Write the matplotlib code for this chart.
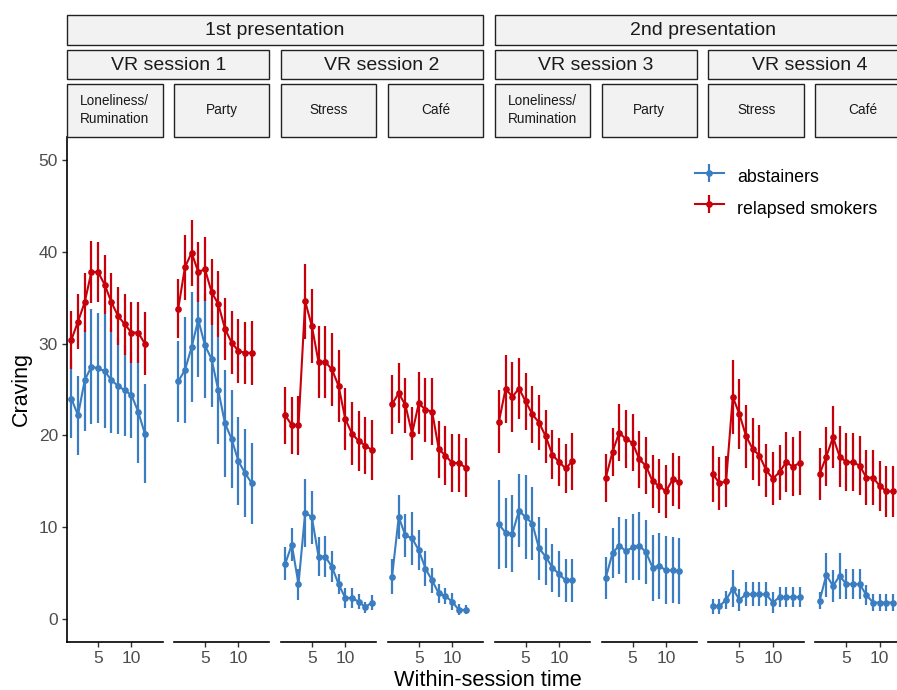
import matplotlib
matplotlib.use("Agg")
import matplotlib.pyplot as plt
from matplotlib.patches import Rectangle

plt.rcParams['font.family'] = ['Liberation Sans', 'DejaVu Sans']

# ---------------- data ----------------
presentations = ["1st presentation", "2nd presentation"]
sessions = ["VR session 1", "VR session 2", "VR session 3", "VR session 4"]
scenes = ["Loneliness/\nRumination", "Party", "Stress", "Café",
          "Loneliness/\nRumination", "Party", "Stress", "Café"]

time_12 = [1, 2, 3, 4, 5, 6, 7, 8, 9, 10, 11, 12]
time_14 = [1, 2, 3, 4, 5, 6, 7, 8, 9, 10, 11, 12, 13, 14]

# panel 1: VR session 1 - Loneliness/Rumination
abst_p1 = [24.0, 22.2, 26.0, 27.5, 27.3, 27.0, 26.0, 25.4, 24.9, 24.4, 22.6, 20.2]
abst_e1 = [4.3, 4.3, 5.5, 6.3, 6.0, 6.2, 5.7, 5.2, 5.0, 4.7, 5.6, 5.4]
rel_p1 = [30.4, 32.4, 34.5, 37.8, 37.8, 36.4, 34.5, 33.0, 32.1, 31.2, 31.2, 30.0]
rel_e1 = [3.2, 3.0, 3.2, 3.4, 3.3, 3.2, 3.2, 3.2, 3.3, 3.3, 3.3, 3.4]
# panel 2: VR session 1 - Party
abst_p2 = [25.9, 27.1, 29.6, 32.6, 29.8, 28.3, 24.9, 21.3, 19.6, 17.2, 15.9, 14.8]
abst_e2 = [4.4, 5.8, 6.0, 6.2, 5.7, 5.2, 5.8, 5.8, 5.3, 4.8, 4.8, 4.4]
rel_p2 = [33.8, 38.3, 39.9, 37.8, 38.1, 35.6, 34.3, 31.6, 30.1, 29.2, 29.0, 29.0]
rel_e2 = [3.2, 3.5, 3.6, 3.3, 3.5, 3.6, 3.6, 3.4, 3.4, 3.5, 3.4, 3.5]
# panel 3: VR session 2 - Stress
abst_p3 = [6.0, 8.1, 3.8, 11.6, 11.1, 6.8, 6.8, 5.7, 3.8, 2.3, 2.3, 1.9, 1.3, 1.8]
abst_e3 = [1.8, 1.8, 1.7, 3.7, 2.9, 2.1, 2.2, 1.7, 1.1, 1.1, 1.1, 0.8, 0.6, 0.8]
rel_p3 = [22.2, 21.1, 21.1, 34.6, 31.9, 28.0, 28.0, 27.2, 25.4, 21.8, 20.2, 19.4, 18.9, 18.4]
rel_e3 = [3.1, 3.1, 3.2, 4.1, 4.0, 3.9, 3.9, 4.0, 3.9, 3.4, 3.4, 3.3, 3.1, 3.3]
# panel 4: VR session 2 - Cafe
abst_p4 = [4.6, 11.1, 9.1, 8.8, 7.5, 5.5, 4.2, 2.8, 2.5, 1.9, 1.0, 1.0]
abst_e4 = [1.9, 2.4, 2.3, 2.9, 2.2, 1.9, 1.4, 1.0, 0.9, 0.9, 0.6, 0.5]
rel_p4 = [23.4, 24.6, 23.3, 20.2, 23.5, 22.8, 22.6, 18.5, 17.8, 17.0, 17.0, 16.5]
rel_e4 = [3.2, 3.3, 3.0, 2.9, 3.4, 3.5, 3.6, 3.1, 3.2, 3.2, 3.2, 3.2]
# panel 5: VR session 3 - Loneliness/Rumination
abst_p5 = [10.3, 9.4, 9.3, 11.8, 11.1, 10.4, 7.7, 6.8, 5.6, 4.9, 4.2, 4.2]
abst_e5 = [4.8, 3.8, 4.2, 4.0, 4.6, 4.0, 3.4, 3.1, 2.6, 2.5, 2.3, 2.3]
rel_p5 = [21.5, 25.1, 24.2, 25.1, 23.7, 22.3, 21.4, 19.9, 17.9, 17.1, 16.4, 17.2]
rel_e5 = [3.4, 3.7, 3.8, 3.3, 3.1, 3.1, 3.0, 2.9, 2.7, 2.6, 2.7, 3.1]
# panel 6: VR session 3 - Party
abst_p6 = [4.5, 7.2, 8.0, 7.4, 7.8, 8.0, 7.3, 5.6, 5.8, 5.3, 5.3, 5.2]
abst_e6 = [2.3, 2.7, 3.1, 3.5, 3.6, 3.7, 3.5, 3.6, 3.6, 3.7, 3.6, 3.6]
rel_p6 = [15.4, 18.2, 20.3, 19.6, 19.2, 17.4, 16.7, 15.0, 14.5, 13.9, 15.2, 14.9]
rel_e6 = [2.6, 2.6, 3.1, 3.2, 3.1, 3.1, 3.1, 2.9, 2.9, 2.9, 2.9, 2.9]
# panel 7: VR session 4 - Stress
abst_p7 = [1.4, 1.4, 2.1, 3.3, 2.1, 2.7, 2.7, 2.7, 2.7, 1.8, 2.4, 2.4, 2.4, 2.4]
abst_e7 = [0.8, 0.8, 1.0, 2.0, 1.2, 1.3, 1.3, 1.3, 1.3, 1.1, 1.1, 1.1, 1.1, 1.1]
rel_p7 = [15.8, 14.8, 15.0, 24.2, 22.3, 19.9, 18.5, 17.8, 16.2, 15.3, 16.0, 17.1, 16.6, 17.0]
rel_e7 = [3.0, 2.9, 2.8, 4.0, 3.8, 3.4, 3.4, 3.3, 2.9, 2.9, 3.0, 3.3, 3.2, 3.5]
# panel 8: VR session 4 - Cafe
abst_p8 = [2.0, 4.8, 3.6, 4.7, 3.8, 3.8, 3.8, 2.6, 1.8, 1.8, 1.8, 1.8]
abst_e8 = [0.9, 2.4, 1.7, 2.5, 1.6, 1.6, 1.6, 1.1, 0.9, 0.9, 0.9, 0.9]
rel_p8 = [15.8, 17.7, 19.8, 17.7, 17.1, 17.1, 16.7, 15.4, 15.4, 14.5, 13.9, 13.9]
rel_e8 = [2.8, 3.2, 3.4, 3.3, 3.2, 3.2, 3.2, 3.0, 3.0, 2.7, 2.8, 2.8]

groups = ["abstainers", "relapsed smokers"]
y_ticks = [0, 10, 20, 30, 40, 50]
x_ticks = [5, 10]

panel_times = [time_12, time_12, time_14, time_12, time_12, time_12, time_14, time_12]
panel_abst = [abst_p1, abst_p2, abst_p3, abst_p4, abst_p5, abst_p6, abst_p7, abst_p8]
panel_abst_err = [abst_e1, abst_e2, abst_e3, abst_e4, abst_e5, abst_e6, abst_e7, abst_e8]
panel_rel = [rel_p1, rel_p2, rel_p3, rel_p4, rel_p5, rel_p6, rel_p7, rel_p8]
panel_rel_err = [rel_e1, rel_e2, rel_e3, rel_e4, rel_e5, rel_e6, rel_e7, rel_e8]

# ---------------- styling ----------------
W, H = 897, 690
BLUE = "#3a7dc0"
RED = "#c8000a"
STRIP_FILL = "#f2f2f2"
TICK_COL = "#4d4d4d"

fig = plt.figure(figsize=(W / 100, H / 100), dpi=100)


def fx(px):
    return px / W


def fy(py):
    return 1 - py / H


panel_left0 = 67.0
panel_step = 106.9
panel_w = 95.5
plot_top = 137.0
plot_bot = 642.0

handles = []
for i in range(8):
    left = panel_left0 + panel_step * i
    ax = fig.add_axes([fx(left), fy(plot_bot), panel_w / W, (plot_bot - plot_top) / H])
    t = panel_times[i]
    ea = ax.errorbar(t, panel_abst[i], yerr=panel_abst_err[i], color=BLUE, lw=1.5,
                     elinewidth=1.6, marker="o", ms=3.8, capsize=0, zorder=2,
                     label=groups[0])
    er = ax.errorbar(t, panel_rel[i], yerr=panel_rel_err[i], color=RED, lw=1.5,
                     elinewidth=1.6, marker="o", ms=3.8, capsize=0, zorder=3,
                     label=groups[1])
    if i == 0:
        handles = [ea, er]
    ax.set_xlim(0.35, 14.65)
    ax.set_ylim(-2.5, 52.5)
    ax.set_xticks(x_ticks)
    ax.set_yticks(y_ticks)
    for s in ["top", "right"]:
        ax.spines[s].set_visible(False)
    ax.spines["bottom"].set_linewidth(1.2)
    ax.spines["left"].set_linewidth(1.2)
    ax.tick_params(axis="both", direction="out", length=3.5, width=1.0,
                   color="#333333", labelcolor=TICK_COL, labelsize=12.5, pad=3)
    if i > 0:
        ax.spines["left"].set_visible(False)
        ax.tick_params(axis="y", left=False, labelleft=False)
    else:
        ax.set_ylabel("Craving", fontsize=15.5, labelpad=5)
    ax.patch.set_alpha(0)

    # third-level strip (scene)
    fig.add_artist(Rectangle((fx(left), fy(137)), panel_w / W, (137 - 84) / H,
                             transform=fig.transFigure, facecolor=STRIP_FILL,
                             edgecolor="#222222", lw=1.0))
    fig.text(fx(left + panel_w / 2), fy((84 + 137) / 2 - 0.5), scenes[i], ha="center",
             va="center", fontsize=9.8, color="#1a1a1a", linespacing=1.45)

# second-level strips (sessions)
for j in range(4):
    left = panel_left0 + panel_step * 2 * j
    right = left + panel_step + panel_w
    fig.add_artist(Rectangle((fx(left), fy(79)), (right - left) / W, (79 - 50) / H,
                             transform=fig.transFigure, facecolor=STRIP_FILL,
                             edgecolor="#222222", lw=1.0))
    fig.text(fx((left + right) / 2), fy(65), sessions[j], ha="center", va="center",
             fontsize=14, color="#1a1a1a")

# top-level strips (presentations)
for k in range(2):
    left = panel_left0 + panel_step * 4 * k
    right = left + panel_step * 3 + panel_w
    fig.add_artist(Rectangle((fx(left), fy(45)), (right - left) / W, (45 - 15) / H,
                             transform=fig.transFigure, facecolor=STRIP_FILL,
                             edgecolor="#222222", lw=1.0))
    fig.text(fx((left + right) / 2), fy(30.5), presentations[k], ha="center",
             va="center", fontsize=14, color="#1a1a1a")

fig.text(fx(488), fy(680), "Within-session time", ha="center", va="center", fontsize=15.7)

fig.legend(handles=handles, labels=groups, loc="upper left",
           bbox_to_anchor=(fx(688), fy(156)), frameon=False, fontsize=12.8,
           handlelength=1.6, handletextpad=0.75, labelspacing=0.2, borderaxespad=0,
           handleheight=2.0)

fig.savefig("out.png", dpi=100)
